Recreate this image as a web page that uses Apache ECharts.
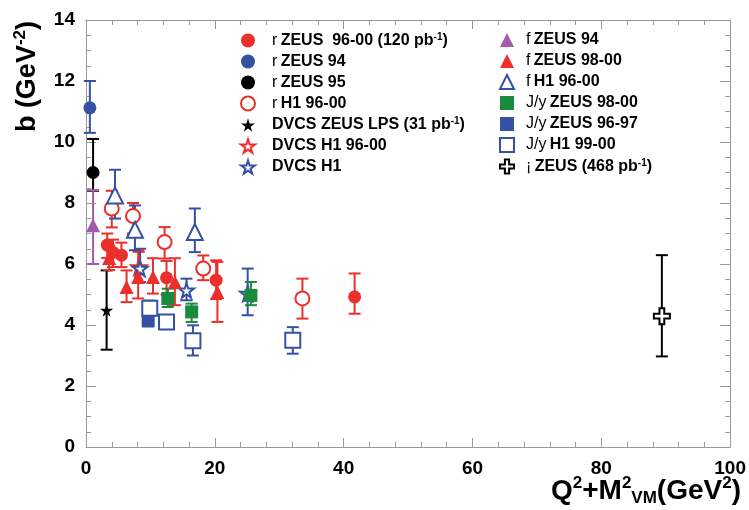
<!DOCTYPE html>
<html><head><meta charset="utf-8">
<script src="https://cdn.jsdelivr.net/npm/echarts@6/dist/echarts.min.js"></script>
<style>html,body{margin:0;padding:0;background:#fff}#c{width:749px;height:510px}</style>
</head><body><div id="c"></div>
<script>
// [x, b, low, high]
var rhoZeus9600 = [[3.3,6.62,6.2,7.0],[4.2,6.38,5.9,6.8],[5.5,6.29,5.9,6.7],[12.5,5.55,5.0,6.1],[20.2,5.47,4.85,6.12],[41.7,4.92,4.37,5.69]];
var rhoZeus94 = [[0.6,11.12,10.3,12.0]];
var rhoZeus95 = [[1.1,9.0,8.4,10.1]];
var rhoH1 = [[4.0,7.82,7.2,8.4],[7.3,7.57,7.0,8.0],[12.2,6.72,6.18,7.21],[18.2,5.85,5.47,6.28],[33.6,4.87,4.21,5.52]];
var dvcsZeusLPS = [[3.2,4.48,3.19,5.79]];
var dvcsH19600 = [[8.2,5.9,5.4,6.4]];
var dvcsH1 = [[8.4,5.85,5.41,6.5],[15.6,5.14,4.81,5.52],[25.1,5.03,4.32,5.85]];
var phiZeus94 = [[1.1,7.27,6.0,8.42]];
var phiZeus9800 = [[3.6,6.2,5.8,6.6],[6.3,5.25,4.75,5.79],[8.1,5.57,4.87,6.45],[10.4,5.57,5.03,6.19],[13.8,5.41,4.65,6.19],[20.4,5.08,4.1,6.07]];
var phiH1 = [[4.5,8.25,7.49,9.09],[7.6,7.12,6.45,7.92],[16.9,7.05,6.39,7.82]];
var jpsiZeus9800 = [[12.7,4.87,4.59,5.19],[16.4,4.43,4.1,4.7],[25.6,4.97,4.65,5.41]];
var jpsiZeus9697 = [[9.65,4.15,3.95,4.35]];
var jpsiH1 = [[9.9,4.55,4.3,4.8],[12.5,4.1,3.9,4.3],[16.6,3.48,3.0,3.99],[32.1,3.5,3.06,3.93]];
var gammaZeus = [[89.4,4.29,2.97,6.29]];

var xTicks = [0,20,40,60,80,100];
var yTicks = [0,2,4,6,8,10,12,14];

var RED='#ec2f2b', BLUE='#3551a4', BLACK='#000', PURPLE='#a45aa8', GREEN='#1a8a3c';
var STAR='path://M50,0 L61,35 L98,35 L68,57 L79,91 L50,70 L21,91 L32,57 L2,35 L39,35 Z';
var CROSS='path://M35,0 H65 V35 H100 V65 H65 V100 H35 V65 H0 V35 H35 Z';

var defs = [
 {name:'rZ9600', label:'{g|r} {a|ZEUS  96-00 (120 pb}{s|-1}{a|)}', data:rhoZeus9600, sym:'circle', size:13, color:RED, open:false, col:0},
 {name:'rZ94', label:'{g|r} {a|ZEUS 94}', data:rhoZeus94, sym:'circle', size:13, color:BLUE, open:false, col:0},
 {name:'rZ95', label:'{g|r} {a|ZEUS 95}', data:rhoZeus95, sym:'circle', size:13, color:BLACK, open:false, col:0},
 {name:'rH1', label:'{g|r} {a|H1 96-00}', data:rhoH1, sym:'circle', size:14, color:RED, open:true, col:0},
 {name:'dZ', label:'{a|DVCS ZEUS LPS (31 pb}{s|-1}{a|)}', data:dvcsZeusLPS, sym:STAR, size:13, color:BLACK, open:false, col:0},
 {name:'dH19600', label:'{a|DVCS H1 96-00}', data:dvcsH19600, sym:STAR, size:15, color:RED, open:true, col:0},
 {name:'dH1', label:'{a|DVCS H1}', data:dvcsH1, sym:STAR, size:15, color:BLUE, open:true, col:0},
 {name:'fZ94', label:'{g|f} {a|ZEUS 94}', data:phiZeus94, sym:'triangle', size:14, color:PURPLE, open:false, col:1},
 {name:'fZ9800', label:'{g|f} {a|ZEUS 98-00}', data:phiZeus9800, sym:'triangle', size:14, color:RED, open:false, col:1},
 {name:'fH1', label:'{g|f} {a|H1 96-00}', data:phiH1, sym:'triangle', size:16, color:BLUE, open:true, col:1},
 {name:'jZ9800', label:'{g|J/y} {a|ZEUS 98-00}', data:jpsiZeus9800, sym:'rect', size:13, color:GREEN, open:false, col:1},
 {name:'jZ9697', label:'{g|J/y} {a|ZEUS 96-97}', data:jpsiZeus9697, sym:'rect', size:13, color:BLUE, open:false, col:1},
 {name:'jH1', label:'{g|J/y} {a|H1 99-00}', data:jpsiH1, sym:'rect', size:15, color:BLUE, open:true, col:1},
 {name:'gZ', label:'{g|¡} {a|ZEUS (468 pb}{s|-1}{a|)}', data:gammaZeus, sym:CROSS, size:16, color:BLACK, open:true, col:1}
];
var labelMap = {};
defs.forEach(function(d){ labelMap[d.name]=d.label; });

var series = [];
defs.forEach(function(d){
  series.push({
    name: d.name+'_err', type:'custom', z:2, silent:true,
    data: d.data.map(function(p){return [p[0],p[2],p[3]];}),
    renderItem: function(params, api){
      var a = api.coord([api.value(0), api.value(1)]);
      var b = api.coord([api.value(0), api.value(2)]);
      var st = {stroke:d.color, lineWidth:2};
      return {type:'group', children:[
        {type:'line', shape:{x1:a[0],y1:a[1],x2:b[0],y2:b[1]}, style:st},
        {type:'line', shape:{x1:a[0]-6,y1:a[1],x2:a[0]+6,y2:a[1]}, style:st},
        {type:'line', shape:{x1:b[0]-6,y1:b[1],x2:b[0]+6,y2:b[1]}, style:st}
      ]};
    }
  });
  series.push({
    name: d.name, type:'scatter', z:5, symbol:d.sym, symbolSize:d.size,
    data: d.data.map(function(p){return [p[0],p[1]];}),
    itemStyle: d.open ? {color:'#fff', borderColor:d.color, borderWidth:2, opacity:1} : {color:d.color, borderColor:d.color, borderWidth:0, opacity:1}
  });
});

var rich = {
  a:{fontFamily:'Liberation Sans', fontWeight:'bold', fontSize:16, color:'#000', lineHeight:17},
  g:{fontFamily:'Liberation Sans', fontWeight:'normal', fontSize:16, color:'#000', lineHeight:17},
  s:{fontFamily:'Liberation Sans', fontWeight:'bold', fontSize:10, color:'#000', lineHeight:17, verticalAlign:'top', padding:[0,0,6,0]}
};
function legendFor(col, left, pad){
  return {
    orient:'vertical', left:left, top:27, itemWidth:14, itemHeight:14, itemGap:5,
    data: defs.filter(function(d){return d.col===col;}).map(function(d){return d.name;}),
    formatter: function(n){ return labelMap[n]; },
    textStyle:{rich:rich, padding:[0,0,0,pad]},
    selectedMode:false
  };
}

var axisCommon = {
  axisLine:{show:true, onZero:false, lineStyle:{color:'#999', width:1}},
  splitLine:{show:false}
};
var chart = echarts.init(document.getElementById('c'));
chart.setOption({
  animation:false,
  backgroundColor:'#fff',
  grid:{left:86, top:20, right:17, bottom:63},
  legend:[legendFor(0, 235, 12), legendFor(1, 494, 7)],
  xAxis:[
    Object.assign({type:'value', min:0, max:100, interval:20, position:'bottom',
      axisTick:{inside:true, length:9, lineStyle:{color:'#999'}},
      minorTick:{show:true, splitNumber:5, length:5, lineStyle:{color:'#999'}},
      axisLabel:{margin:12, fontFamily:'Liberation Sans', fontWeight:'bold', fontSize:19, color:'#000',
        formatter:function(v){return xTicks.indexOf(v)>=0?String(v):'';}}}, axisCommon),
    Object.assign({type:'value', min:0, max:100, interval:20, position:'top',
      axisTick:{inside:true, length:9, lineStyle:{color:'#999'}},
      minorTick:{show:true, splitNumber:5, length:5, lineStyle:{color:'#999'}},
      axisLabel:{show:false}}, axisCommon)
  ],
  yAxis:[
    Object.assign({type:'value', min:0, max:14, interval:2, position:'left',
      axisTick:{inside:true, length:10, lineStyle:{color:'#999'}},
      minorTick:{show:true, splitNumber:4, length:5, lineStyle:{color:'#999'}},
      axisLabel:{margin:11, fontFamily:'Liberation Sans', fontWeight:'bold', fontSize:19, color:'#000',
        formatter:function(v){return yTicks.indexOf(v)>=0?String(v):'';}}}, axisCommon),
    Object.assign({type:'value', min:0, max:14, interval:2, position:'right',
      axisTick:{inside:true, length:10, lineStyle:{color:'#999'}},
      minorTick:{show:true, splitNumber:4, length:5, lineStyle:{color:'#999'}},
      axisLabel:{show:false}}, axisCommon)
  ],
  graphic:[
    {type:'text', left:12, top:21, rotation:Math.PI/2, originX:0, originY:0,
      style:{text:'{t|b (GeV}{s|-2}{t|)}', rich:{
        t:{fontFamily:'Liberation Sans', fontWeight:'bold', fontSize:27, fill:'#000', lineHeight:32},
        s:{fontFamily:'Liberation Sans', fontWeight:'bold', fontSize:17, fill:'#000', lineHeight:32, verticalAlign:'top', padding:[0,0,9,0]}}}},
    {type:'text', left:551, top:475,
      style:{text:'{t|Q}{s|2}{t|+M}{s|2}{b|VM}{t|(GeV}{s|2}{t|)}', rich:{
        t:{fontFamily:'Liberation Sans', fontWeight:'bold', fontSize:28, fill:'#000', lineHeight:32},
        s:{fontFamily:'Liberation Sans', fontWeight:'bold', fontSize:17, fill:'#000', lineHeight:32, verticalAlign:'top', padding:[0,0,10,0]},
        b:{fontFamily:'Liberation Sans', fontWeight:'bold', fontSize:17, fill:'#000', lineHeight:32, verticalAlign:'bottom', padding:[10,0,0,0]}}}}
  ],
  series: series
});
</script></body></html>
